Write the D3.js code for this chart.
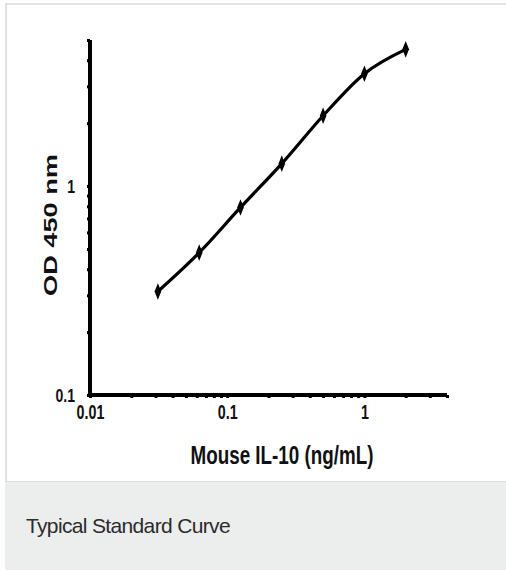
<!DOCTYPE html>
<html>
<head>
<meta charset="utf-8">
<script src="https://cdn.jsdelivr.net/npm/d3@7"></script>
<style>
  html, body { margin: 0; padding: 0; background: #ffffff; }
  body { width: 506px; height: 571px; overflow: hidden; position: relative; font-family: "Liberation Sans", Arial, sans-serif; }
  #card { position: absolute; left: 5px; top: 3px; width: 503px; height: 478px; border-top: 2px solid #e1e1e1; border-left: 2px solid #e1e1e1; background: #fff; box-sizing: border-box; }
  #cap { position: absolute; left: 5px; top: 481px; width: 501px; height: 89px; background: #eceeed; border-top: 1px solid #dcdedd; box-sizing: border-box; }
  #cap span { position: absolute; left: 21px; top: 32px; font-size: 21px; line-height: 24px; color: #2b2b2b; letter-spacing: -0.65px; }
  svg { position: absolute; left: 0; top: 0; }
</style>
</head>
<body>
<div id="card"></div>
<div id="cap"><span>Typical Standard Curve</span></div>
<svg id="chart" width="506" height="480"></svg>
<script>
// Data
const concentrations = [0.03125, 0.0625, 0.125, 0.25, 0.5, 1, 2];
const odValues = [0.313, 0.48, 0.79, 1.28, 2.17, 3.45, 4.51];
const xTickLabels = [0.01, 0.1, 1];
const yTickLabels = [0.1, 1];
const xTitle = "Mouse IL-10 (ng/mL)";
const yTitle = "OD 450 nm";

const svg = d3.select("#chart");
const mLeft = 90, mRight = 447, mTop = 40, mBottom = 395;

const x = d3.scaleLog().domain([0.01, 4]).range([mLeft, mRight]);
const y = d3.scaleLog().domain([0.1, 5]).range([mBottom, mTop]);

// Y axis
const yAxis = svg.append("g").attr("transform", `translate(${mLeft},0)`)
  .call(d3.axisLeft(y).tickSize(3).tickPadding(6)
    .tickFormat(d => yTickLabels.some(v => Math.abs(v - d) < 1e-9) ? d3.format("~g")(d) : ""));
yAxis.select(".domain").attr("stroke", "#000").attr("stroke-width", 4)
  .attr("d", `M0,${mTop}V${mBottom + 2}`);
yAxis.selectAll(".tick line").attr("stroke", "#000").attr("stroke-width", 3);
yAxis.selectAll(".tick text")
  .attr("font-family", "Liberation Sans, Arial, sans-serif")
  .attr("font-size", 19).attr("font-weight", "bold").attr("fill", "#111")
  .attr("x", 0).attr("text-anchor", "end")
  .attr("transform", "translate(-15,0) scale(0.74,1)");

// X axis
const xAxis = svg.append("g").attr("transform", `translate(0,${mBottom})`)
  .call(d3.axisBottom(x).tickSize(3).tickPadding(6)
    .tickFormat(d => xTickLabels.some(v => Math.abs(v - d) < 1e-9) ? d3.format("~g")(d) : ""));
xAxis.select(".domain").attr("stroke", "#000").attr("stroke-width", 4)
  .attr("d", `M${mLeft - 2},0H${mRight}`);
xAxis.selectAll(".tick line").attr("stroke", "#000").attr("stroke-width", 3);
xAxis.selectAll(".tick text")
  .attr("font-family", "Liberation Sans, Arial, sans-serif")
  .attr("font-size", 21).attr("font-weight", "bold").attr("fill", "#111")
  .attr("transform", "scale(0.68,1)");

// Titles
svg.append("text")
  .attr("x", 282).attr("y", 464)
  .attr("text-anchor", "middle")
  .attr("font-family", "Liberation Sans, Arial, sans-serif")
  .attr("font-size", 26).attr("font-weight", "bold").attr("fill", "#111")
  .attr("textLength", 183).attr("lengthAdjust", "spacingAndGlyphs")
  .text(xTitle);

svg.append("text")
  .attr("transform", "translate(57,225) rotate(-90)")
  .attr("text-anchor", "middle")
  .attr("font-family", "Liberation Sans, Arial, sans-serif")
  .attr("font-size", 19).attr("font-weight", "bold").attr("fill", "#111")
  .attr("textLength", 142).attr("lengthAdjust", "spacingAndGlyphs")
  .text(yTitle);

// Curve
const pts = concentrations.map((c, i) => [c, odValues[i]]);
svg.append("path")
  .datum(pts)
  .attr("fill", "none").attr("stroke", "#000").attr("stroke-width", 3.2)
  .attr("d", d3.line().x(d => x(d[0])).y(d => y(d[1])).curve(d3.curveMonotoneX));

svg.selectAll(".pt").data(pts).enter().append("path")
  .attr("class", "pt")
  .attr("transform", d => `translate(${x(d[0])},${y(d[1])}) scale(0.8,1.15)`)
  .attr("d", d3.symbol().type(d3.symbolDiamond).size(60))
  .attr("fill", "#000");
</script>
</body>
</html>
